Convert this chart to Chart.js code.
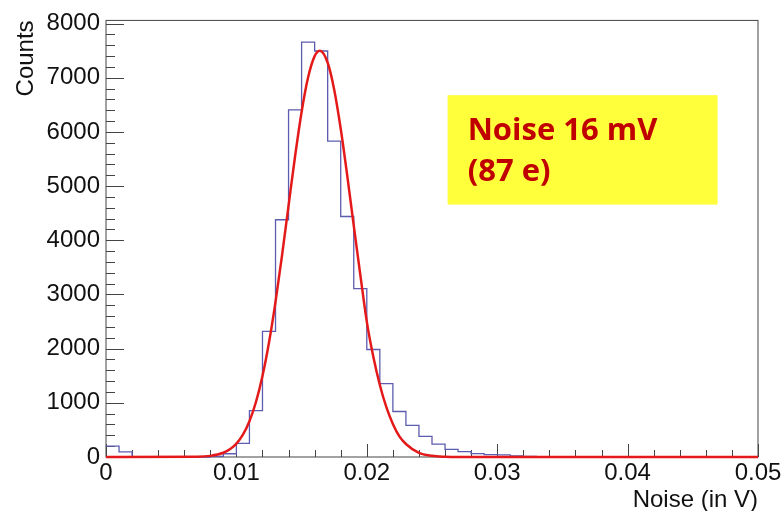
<!DOCTYPE html>
<html>
<head>
<meta charset="utf-8">
<script src="https://cdn.jsdelivr.net/npm/chart.js@4.4.1/dist/chart.umd.min.js"></script>
<style>
  body { margin: 0; background: #fff; }
  #noiseChart { display: block; }
</style>
</head>
<body>
<canvas id="noiseChart" width="784" height="511"></canvas>
<script>
// histogram, 50 bins of 1 mV from 0 to 0.05 V
const binWidth = 0.001
const counts = [200, 95, 0, 0, 0, 0, 0, 0, 10, 60,
                250, 855, 2320, 4380, 6410, 7660, 7495, 5830, 4440, 3110,
                1985, 1355, 840, 585, 380, 238, 140, 100, 62, 44,
                38, 20, 12, 8, 5, 4, 3, 2, 2, 1,
                1, 0, 0, 0, 0, 0, 0, 0, 0, 0]

// gaussian fit curve
const fitX = [0, 0.007, 0.008, 0.009, 0.0095, 0.010, 0.0105, 0.011, 0.0115, 0.012,
              0.0125, 0.013, 0.0135, 0.014, 0.0145, 0.015, 0.0155, 0.016, 0.0164, 0.017,
              0.0175, 0.018, 0.0185, 0.019, 0.0195, 0.020, 0.0205, 0.021, 0.0215, 0.022,
              0.0225, 0.023, 0.024, 0.025, 0.026, 0.027, 0.05]
const fitY = [0, 5, 21, 78, 142, 247, 413, 661, 1015, 1495,
              2113, 2863, 3723, 4642, 5552, 6370, 7010, 7401, 7500, 7278,
              6781, 6060, 5195, 4271, 3368, 2500, 1850, 1330, 920, 610,
              380, 240, 75, 22, 5, 0, 0]

const xTicks = [0, 0.01, 0.02, 0.03, 0.04, 0.05]
const yTicks = [0, 1000, 2000, 3000, 4000, 5000, 6000, 7000, 8000]
const boxLines = ['Noise 16 mV', '(87 e)']

const histPoints = counts.map((c, i) => ({ x: i * binWidth, y: c }))
histPoints.push({ x: counts.length * binWidth, y: counts[counts.length - 1] })
const fitPoints = fitX.map((x, i) => ({ x: x, y: fitY[i] }))

const axisFont = { family: 'Liberation Sans, Arial, sans-serif', size: 24 }

// ROOT style frame with ticks pointing inwards
const rootFrame = {
    id: 'rootFrame',
    beforeDatasetsDraw(chart) {
        const ctx = chart.ctx
        const a = chart.chartArea
        const xs = chart.scales.x
        const ys = chart.scales.y
        ctx.save()
        ctx.strokeStyle = '#444'
        ctx.lineWidth = 1
        ctx.strokeRect(a.left, a.top, a.right - a.left, a.bottom - a.top)
        ctx.beginPath()
        for (let i = 0; i <= 25; i++) {
            const px = Math.round(xs.getPixelForValue(i * 0.002)) + 0.5
            const len = i % 5 === 0 ? 13 : 7
            ctx.moveTo(px, a.bottom)
            ctx.lineTo(px, a.bottom - len)
        }
        for (let i = 0; i <= 40; i++) {
            const py = Math.round(ys.getPixelForValue(i * 200)) + 0.5
            const len = i % 5 === 0 ? 18 : 9
            ctx.moveTo(a.left, py)
            ctx.lineTo(a.left + len, py)
        }
        ctx.stroke()
        ctx.restore()
    },
    afterDatasetsDraw(chart) {
        // yellow label box
        const ctx = chart.ctx
        const xs = chart.scales.x
        const ys = chart.scales.y
        const l = xs.getPixelForValue(0.0262)
        const r = xs.getPixelForValue(0.0469)
        const t = ys.getPixelForValue(6680)
        const b = ys.getPixelForValue(4660)
        ctx.save()
        ctx.fillStyle = '#ffff3c'
        ctx.fillRect(l, t, r - l, b - t)
        ctx.fillStyle = '#c00000'
        ctx.font = 'bold 31px "Open Sans", sans-serif'
        ctx.textBaseline = 'alphabetic'
        ctx.fillText(boxLines[0], l + 20, t + 45)
        ctx.fillText(boxLines[1], l + 20, t + 86)
        ctx.restore()
    }
}

new Chart(document.getElementById('noiseChart'), {
    type: 'line',
    data: {
        datasets: [{
            label: 'fit',
            data: fitPoints,
            borderColor: '#e41a1a',
            borderWidth: 2.5,
            pointRadius: 0,
            cubicInterpolationMode: 'monotone',
            clip: 4,
            order: 0
        }, {
            label: 'hist',
            data: histPoints,
            borderColor: '#5c5cb0',
            borderWidth: 1.3,
            pointRadius: 0,
            stepped: 'before',
            clip: 4,
            order: 1
        }]
    },
    options: {
        responsive: false,
        animation: false,
        layout: { padding: { left: 0, right: 26, top: 17, bottom: 0 } },
        plugins: { legend: { display: false }, tooltip: { enabled: false } },
        scales: {
            x: {
                type: 'linear',
                min: 0,
                max: 0.05,
                grid: { display: false, drawTicks: false },
                border: { display: false },
                afterFit: function (s) { s.height = 54 },
                afterBuildTicks: function (s) { s.ticks = xTicks.map(v => ({ value: v })) },
                ticks: {
                    font: axisFont,
                    color: '#111',
                    padding: 2,
                    maxRotation: 0,
                    autoSkip: false,
                    callback: v => v === 0 ? '0' : v.toFixed(2)
                },
                title: {
                    display: true,
                    text: 'Noise (in V)',
                    align: 'end',
                    font: axisFont,
                    color: '#111',
                    padding: { top: 0, bottom: -4 }
                }
            },
            y: {
                min: 0,
                max: 8060,
                grid: { display: false, drawTicks: false },
                border: { display: false },
                afterFit: function (s) { s.width = 106 },
                afterBuildTicks: function (s) { s.ticks = yTicks.map(v => ({ value: v })) },
                ticks: {
                    font: axisFont,
                    color: '#111',
                    padding: 6,
                    autoSkip: false,
                    callback: v => String(v)
                },
                title: {
                    display: true,
                    text: 'Counts',
                    align: 'end',
                    font: axisFont,
                    color: '#111',
                    padding: { top: 12, bottom: 0 }
                }
            }
        }
    },
    plugins: [rootFrame]
})
</script>
</body>
</html>
